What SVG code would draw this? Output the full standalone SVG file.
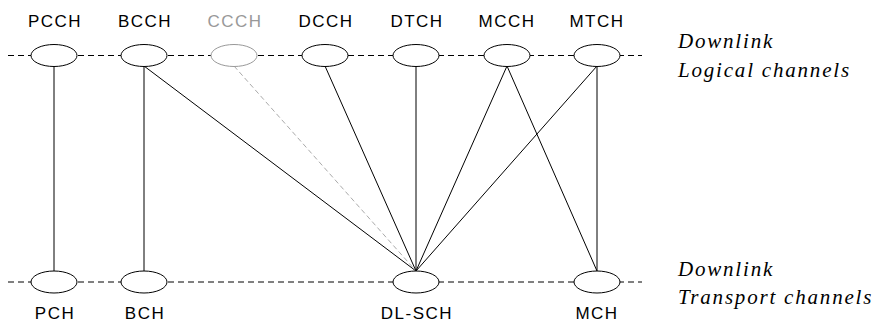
<svg xmlns="http://www.w3.org/2000/svg" width="878" height="322" viewBox="0 0 878 322">
<style>
.lbl{font-family:"Liberation Sans",Arial,sans-serif;font-size:17px;letter-spacing:1.5px;text-anchor:middle;fill:#000}
.it{font-family:"Liberation Serif","Times New Roman",serif;font-style:italic;font-size:21px;letter-spacing:1.8px;fill:#000}
.ax{stroke:#000;stroke-width:1;stroke-dasharray:6 4;fill:none}
.ln{stroke:#000;stroke-width:1;fill:none}
.gl{stroke:#aaa;stroke-width:1;stroke-dasharray:5 3;fill:none}
.el{fill:#fff;stroke:#000;stroke-width:1}
.eg{fill:#fff;stroke:#999;stroke-width:1}
</style>
<rect width="878" height="322" fill="#fff"/>
<g id="axes">
<line class="ax" x1="8" y1="55.5" x2="642" y2="55.5"/>
<line class="ax" x1="8" y1="282" x2="642" y2="282"/>
</g>
<g id="connectors">
<line class="ln" x1="54" y1="66" x2="54" y2="271"/>
<line class="ln" x1="144" y1="66" x2="144" y2="271"/>
<line class="ln" x1="144" y1="66" x2="416" y2="271"/>
<line class="gl" x1="234" y1="66" x2="416" y2="271"/>
<line class="ln" x1="325" y1="66" x2="416" y2="271"/>
<line class="ln" x1="416" y1="66" x2="416" y2="271"/>
<line class="ln" x1="507" y1="66" x2="416" y2="271"/>
<line class="ln" x1="507" y1="66" x2="597" y2="271"/>
<line class="ln" x1="597" y1="66" x2="416" y2="271"/>
<line class="ln" x1="597" y1="66" x2="597" y2="271"/>
</g>
<g id="PCCH"><ellipse class="el" cx="54" cy="55.5" rx="23" ry="11"/><text class="lbl" x="55" y="27">PCCH</text></g>
<g id="BCCH"><ellipse class="el" cx="144" cy="55.5" rx="23" ry="11"/><text class="lbl" x="145" y="27">BCCH</text></g>
<g id="CCCH"><ellipse class="eg" cx="234" cy="55.5" rx="23" ry="11"/><text class="lbl" x="235" y="27" style="fill:#999">CCCH</text></g>
<g id="DCCH"><ellipse class="el" cx="325" cy="55.5" rx="23" ry="11"/><text class="lbl" x="326" y="27">DCCH</text></g>
<g id="DTCH"><ellipse class="el" cx="416" cy="55.5" rx="23" ry="11"/><text class="lbl" x="417" y="27">DTCH</text></g>
<g id="MCCH"><ellipse class="el" cx="507" cy="55.5" rx="23" ry="11"/><text class="lbl" x="507" y="27">MCCH</text></g>
<g id="MTCH"><ellipse class="el" cx="597" cy="55.5" rx="23" ry="11"/><text class="lbl" x="597" y="27">MTCH</text></g>
<g id="PCH"><ellipse class="el" cx="54" cy="282" rx="23" ry="11"/><text class="lbl" x="55" y="319">PCH</text></g>
<g id="BCH"><ellipse class="el" cx="144" cy="282" rx="23" ry="11"/><text class="lbl" x="145" y="319">BCH</text></g>
<g id="DL-SCH"><ellipse class="el" cx="416" cy="282" rx="23" ry="11"/><text class="lbl" x="417" y="319">DL-SCH</text></g>
<g id="MCH"><ellipse class="el" cx="597" cy="282" rx="23" ry="11"/><text class="lbl" x="597" y="319">MCH</text></g>
<g id="legend-logical"><text class="it" x="678" y="48">Downlink</text><text class="it" x="678" y="77">Logical channels</text></g>
<g id="legend-transport"><text class="it" x="678" y="276">Downlink</text><text class="it" x="678" y="304">Transport channels</text></g>
</svg>
